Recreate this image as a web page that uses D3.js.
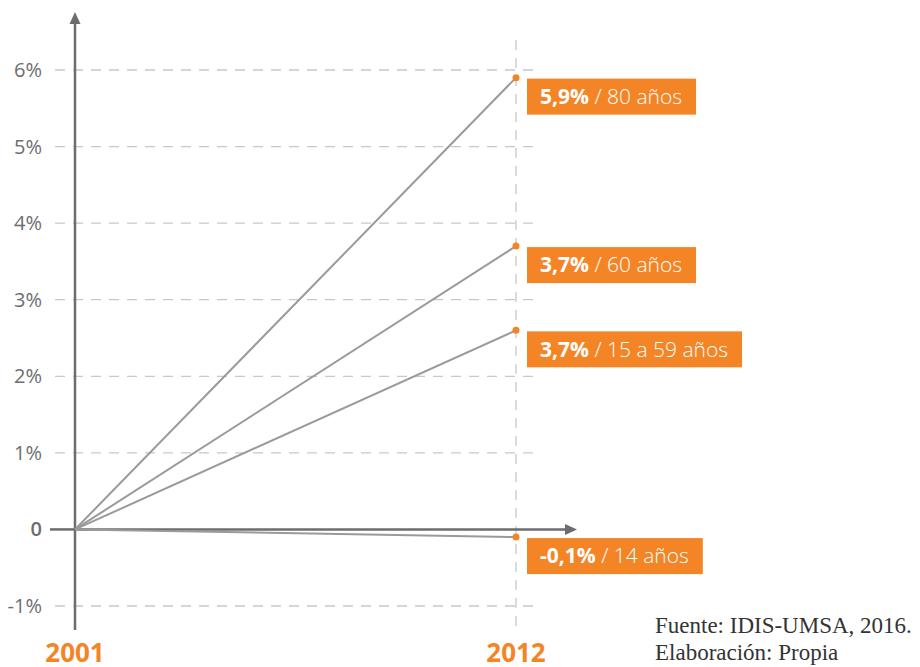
<!DOCTYPE html>
<html><head><meta charset="utf-8">
<script src="https://cdn.jsdelivr.net/npm/d3@7"></script>
<style>body{margin:0;background:#fff}svg{display:block}</style>
</head><body>
<svg id="c" width="920" height="667"></svg>
<script>
const years = ["2001", "2012"];
const seriesNames = ["80 años", "60 años", "15 a 59 años", "14 años"];
const startValues = [0, 0, 0, 0];
const endValues = [5.9, 3.7, 2.6, -0.1];
const labelValues = ["5,9%", "3,7%", "3,7%", "-0,1%"];
const yTicks = [-1, 0, 1, 2, 3, 4, 5, 6];
const yTickLabels = ["-1%", "0", "1%", "2%", "3%", "4%", "5%", "6%"];
const sourceLines = ["Fuente: IDIS-UMSA, 2016.", "Elaboración: Propia"];

const svg = d3.select("#c");
const orange = "#F38526";
const x = d3.scalePoint().domain(years).range([75, 516]);
const y = d3.scaleLinear().domain([-1, 6]).range([606, 70]);

// gridlines
svg.append("g").selectAll("line").data(yTicks.filter(d => d !== 0)).join("line")
  .attr("x1", 55).attr("x2", 535).attr("y1", d => y(d)).attr("y2", d => y(d))
  .attr("stroke", "#c8c8c8").attr("stroke-width", 1.3).attr("stroke-dasharray", "10,8");
// vertical dashed at 2012
svg.append("line").attr("x1", x("2012")).attr("x2", x("2012")).attr("y1", 40).attr("y2", 630)
  .attr("stroke", "#c8c8c8").attr("stroke-width", 1.3).attr("stroke-dasharray", "10,8");

// tick labels
svg.append("g").selectAll("text").data(yTicks).join("text")
  .attr("x", 42).attr("y", d => y(d)).attr("dy", "0.35em").attr("text-anchor", "end")
  .attr("font-family", "Open Sans, sans-serif").attr("font-size", 20).attr("fill", "#6d6d6f")
  .attr("font-weight", d => d === 0 ? 600 : 400)
  .text((d, i) => yTickLabels[i]);
// zero tick mark
svg.append("line").attr("x1", 50).attr("x2", 75).attr("y1", y(0)).attr("y2", y(0))
  .attr("stroke", "#6d6d6f").attr("stroke-width", 2.5);

// axes
const axisC = "#6d6d6f";
svg.append("line").attr("x1", 75).attr("x2", 75).attr("y1", 24).attr("y2", 630)
  .attr("stroke", axisC).attr("stroke-width", 2.5);
svg.append("path").attr("d", "M75,12 L69.5,24 L80.5,24 Z").attr("fill", axisC);
svg.append("line").attr("x1", 75).attr("x2", 565).attr("y1", y(0)).attr("y2", y(0))
  .attr("stroke", axisC).attr("stroke-width", 2.5);
svg.append("path").attr("d", `M577,${y(0)} L565,${y(0)-5.5} L565,${y(0)+5.5} Z`).attr("fill", axisC);

// series lines
const data = seriesNames.map((n, i) => ({name: n, v0: startValues[i], v1: endValues[i], lab: labelValues[i]}));
svg.append("g").selectAll("line").data(data).join("line")
  .attr("x1", x("2001")).attr("y1", d => y(d.v0)).attr("x2", x("2012")).attr("y2", d => y(d.v1))
  .attr("stroke", "#9a9a9c").attr("stroke-width", 2);
svg.append("g").selectAll("circle").data(data).join("circle")
  .attr("cx", x("2012")).attr("cy", d => y(d.v1)).attr("r", 3.5).attr("fill", orange);

// labels
const lg = svg.append("g").selectAll("g").data(data).join("g")
  .attr("transform", d => `translate(527,${y(d.v1) + 1})`);
const txt = lg.append("text").attr("x", 13).attr("y", 18).attr("dy", "0.35em")
  .attr("font-family", "Open Sans, sans-serif").attr("font-size", 21).attr("fill", "#fff");
txt.append("tspan").attr("font-weight", 700).text(d => d.lab);
txt.append("tspan").attr("font-weight", 300).text(d => " / " + d.name);
lg.each(function() {
  const g = d3.select(this);
  const w = g.select("text").node().getComputedTextLength();
  g.insert("rect", "text").attr("width", w + 27).attr("height", 36).attr("fill", orange);
});

// year labels
svg.append("g").selectAll("text").data(years).join("text")
  .attr("x", d => x(d)).attr("y", 662).attr("text-anchor", "middle")
  .attr("font-family", "Open Sans, sans-serif").attr("font-size", 26).attr("font-weight", 700)
  .attr("fill", orange).text(d => d);

// source
svg.append("g").selectAll("text").data(sourceLines).join("text")
  .attr("x", 655).attr("y", (d, i) => 633 + i * 27)
  .attr("font-family", "Liberation Serif, serif").attr("font-size", 23).attr("fill", "#333")
  .text(d => d);
</script>
</body></html>
